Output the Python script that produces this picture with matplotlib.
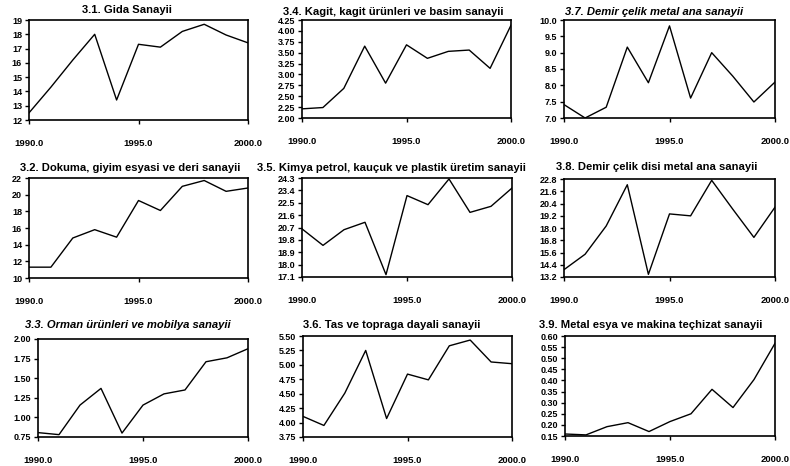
import numpy as np
import matplotlib
matplotlib.use("Agg")
import matplotlib.pyplot as plt
from matplotlib.ticker import FormatStrFormatter

plt.rcParams["font.family"] = ["Liberation Sans", "DejaVu Sans"]
plt.rcParams["font.weight"] = "bold"

years = [1990, 1991, 1992, 1993, 1994, 1995, 1996, 1997, 1998, 1999, 2000]

gida = [12.5, 14.3, 16.2, 18.0, 13.4, 17.3, 17.1, 18.2, 18.7, 17.95, 17.4]
kagit = [2.21, 2.24, 2.68, 3.65, 2.80, 3.68, 3.37, 3.53, 3.56, 3.14, 4.13]
demir_celik = [7.41, 7.0, 7.33, 9.17, 8.08, 9.82, 7.61, 9.0, 8.28, 7.49, 8.10]
dokuma = [11.3, 11.3, 14.8, 15.8, 14.9, 19.3, 18.1, 21.0, 21.7, 20.4, 20.8]
kimya = [20.6, 19.4, 20.54, 21.08, 17.27, 23.02, 22.36, 24.23, 21.8, 22.24, 23.57]
demir_disi = [13.92, 15.43, 18.2, 22.24, 13.46, 19.38, 19.19, 22.67, 19.84, 17.08, 20.04]
orman = [0.806, 0.78, 1.157, 1.37, 0.80, 1.157, 1.30, 1.35, 1.71, 1.76, 1.876]
tas = [4.107, 3.95, 4.51, 5.25, 4.07, 4.84, 4.74, 5.33, 5.43, 5.05, 5.02]
metal = [0.159, 0.155, 0.192, 0.21, 0.17, 0.215, 0.25, 0.36, 0.278, 0.404, 0.567]

titles = [
    "3.1. Gida Sanayii",
    "3.4. Kagit, kagit ürünleri ve basim sanayii",
    "3.7. Demir çelik metal ana sanayii",
    "3.2. Dokuma, giyim esyasi ve deri sanayii",
    "3.5. Kimya petrol, kauçuk ve plastik üretim sanayii",
    "3.8. Demir çelik disi metal ana sanayii",
    "3.3. Orman ürünleri ve mobilya sanayii",
    "3.6. Tas ve topraga dayali sanayii",
    "3.9. Metal esya ve makina teçhizat sanayii",
]
series = [gida, kagit, demir_celik, dokuma, kimya, demir_disi, orman, tas, metal]
# (min, max, step, format)
yaxes = [
    (12, 19, 1, "%d"),
    (2.0, 4.25, 0.25, "%.2f"),
    (7.0, 10.0, 0.5, "%.1f"),
    (10, 22, 2, "%d"),
    (17.1, 24.3, 0.9, "%.1f"),
    (13.2, 22.8, 1.2, "%.1f"),
    (0.75, 2.0, 0.25, "%.2f"),
    (3.75, 5.5, 0.25, "%.2f"),
    (0.15, 0.60, 0.05, "%.2f"),
]

W, H = 790, 466
# pixel boxes: x0, x1, ytop, ybottom
boxes = [
    (29, 248, 20, 120), (302, 511, 20, 118), (564, 775, 20, 118),
    (29, 248, 178, 278), (302, 512, 178, 277), (564, 775, 179, 277),
    (38, 248, 339, 437), (303, 512, 336, 437), (565, 775, 336, 436),
]
title_pos = [
    (127, 10), (393, 12), (654, 12),
    (130, 168), (391, 168), (657, 167),
    (128, 325), (392, 325), (651, 325),
]
italic = [False, False, True, False, False, False, True, False, False]

fig = plt.figure(figsize=(W / 100, H / 100), dpi=100)

for i in range(9):
    x0, x1, yt, yb = boxes[i]
    ax = fig.add_axes([x0 / W, 1 - yb / H, (x1 - x0) / W, (yb - yt) / H])
    ax.plot(years, series[i], color="black", lw=1.0)
    lo, hi, step, fmt = yaxes[i]
    ax.set_xlim(1990, 2000)
    ax.set_ylim(lo, hi)
    ax.set_yticks(np.arange(lo, hi + step / 2, step))
    ax.yaxis.set_major_formatter(FormatStrFormatter(fmt))
    ax.set_xticks([1990, 1995, 2000])
    ax.xaxis.set_major_formatter(FormatStrFormatter("%.1f"))
    ax.tick_params(axis="y", direction="out", length=3, width=1, pad=2, labelsize=6.5)
    ax.tick_params(axis="x", direction="out", length=3, width=1, pad=11, labelsize=6.8)
    for s in ax.spines.values():
        s.set_linewidth(1.2)
    tx, ty = title_pos[i]
    fig.text(tx / W, 1 - ty / H, titles[i], ha="center", va="center",
             fontsize=8.1, fontweight="bold",
             style="italic" if italic[i] else "normal")

fig.savefig("out.png", dpi=100)
